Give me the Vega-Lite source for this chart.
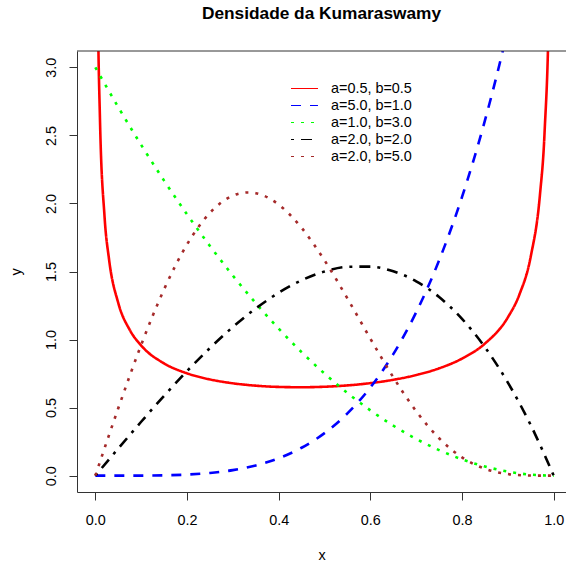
{
  "$schema": "https://vega.github.io/schema/vega-lite/v6.json",
  "width": 489,
  "height": 441,
  "autosize": {"type": "none"},
  "padding": {"left": 77, "top": 51, "right": 0, "bottom": 74},
  "background": "white",
  "title": {"text": "Densidade da Kumaraswamy", "font": "Liberation Sans", "fontSize": 17.3, "fontWeight": "bold", "color": "black", "anchor": "middle", "frame": "group", "baseline": "alphabetic", "offset": 14},
  "config": {
    "view": {"stroke": null},
    "font": "Liberation Sans",
    "axis": {"grid": false, "domain": true, "domainColor": "#333", "domainWidth": 1, "tickColor": "#333", "tickSize": 8, "tickWidth": 1, "labelFont": "Liberation Sans", "labelFontSize": 14.4, "labelColor": "black", "titleFont": "Liberation Sans", "titleFontSize": 14.4, "titleFontWeight": "normal", "titleColor": "black"}
  },
  "layer": [
    {
      "data": {"values": [
        {"s": "a=0.5, b=0.5", "x": 0.0005, "y": 11.307},
        {"s": "a=0.5, b=0.5", "x": 0.001, "y": 8.034},
        {"s": "a=0.5, b=0.5", "x": 0.002, "y": 5.72},
        {"s": "a=0.5, b=0.5", "x": 0.005, "y": 3.668},
        {"s": "a=0.5, b=0.5", "x": 0.01, "y": 2.635},
        {"s": "a=0.5, b=0.5", "x": 0.02, "y": 1.908},
        {"s": "a=0.5, b=0.5", "x": 0.03, "y": 1.587},
        {"s": "a=0.5, b=0.5", "x": 0.05, "y": 1.2689},
        {"s": "a=0.5, b=0.5", "x": 0.075, "y": 1.0713},
        {"s": "a=0.5, b=0.5", "x": 0.1, "y": 0.9561},
        {"s": "a=0.5, b=0.5", "x": 0.15, "y": 0.8247},
        {"s": "a=0.5, b=0.5", "x": 0.2, "y": 0.7519},
        {"s": "a=0.5, b=0.5", "x": 0.25, "y": 0.7071},
        {"s": "a=0.5, b=0.5", "x": 0.3, "y": 0.6787},
        {"s": "a=0.5, b=0.5", "x": 0.35, "y": 0.6612},
        {"s": "a=0.5, b=0.5", "x": 0.4, "y": 0.652},
        {"s": "a=0.5, b=0.5", "x": 0.45, "y": 0.6496},
        {"s": "a=0.5, b=0.5", "x": 0.5, "y": 0.6533},
        {"s": "a=0.5, b=0.5", "x": 0.55, "y": 0.6632},
        {"s": "a=0.5, b=0.5", "x": 0.6, "y": 0.6798},
        {"s": "a=0.5, b=0.5", "x": 0.65, "y": 0.7044},
        {"s": "a=0.5, b=0.5", "x": 0.7, "y": 0.7393},
        {"s": "a=0.5, b=0.5", "x": 0.75, "y": 0.7887},
        {"s": "a=0.5, b=0.5", "x": 0.8, "y": 0.8602},
        {"s": "a=0.5, b=0.5", "x": 0.85, "y": 0.9706},
        {"s": "a=0.5, b=0.5", "x": 0.9, "y": 1.1633},
        {"s": "a=0.5, b=0.5", "x": 0.925, "y": 1.3294},
        {"s": "a=0.5, b=0.5", "x": 0.95, "y": 1.6119},
        {"s": "a=0.5, b=0.5", "x": 0.97, "y": 2.0647},
        {"s": "a=0.5, b=0.5", "x": 0.98, "y": 2.519},
        {"s": "a=0.5, b=0.5", "x": 0.99, "y": 3.5488},
        {"s": "a=0.5, b=0.5", "x": 0.995, "y": 5.0095},
        {"s": "a=0.5, b=0.5", "x": 0.998, "y": 7.91},

        {"s": "a=5.0, b=1.0", "x": 0, "y": 0},
        {"s": "a=5.0, b=1.0", "x": 0.05, "y": 0.00003},
        {"s": "a=5.0, b=1.0", "x": 0.1, "y": 0.0005},
        {"s": "a=5.0, b=1.0", "x": 0.15, "y": 0.00253},
        {"s": "a=5.0, b=1.0", "x": 0.2, "y": 0.008},
        {"s": "a=5.0, b=1.0", "x": 0.25, "y": 0.01953},
        {"s": "a=5.0, b=1.0", "x": 0.3, "y": 0.0405},
        {"s": "a=5.0, b=1.0", "x": 0.35, "y": 0.07503},
        {"s": "a=5.0, b=1.0", "x": 0.4, "y": 0.128},
        {"s": "a=5.0, b=1.0", "x": 0.45, "y": 0.20503},
        {"s": "a=5.0, b=1.0", "x": 0.5, "y": 0.3125},
        {"s": "a=5.0, b=1.0", "x": 0.55, "y": 0.45753},
        {"s": "a=5.0, b=1.0", "x": 0.6, "y": 0.648},
        {"s": "a=5.0, b=1.0", "x": 0.65, "y": 0.89253},
        {"s": "a=5.0, b=1.0", "x": 0.7, "y": 1.2005},
        {"s": "a=5.0, b=1.0", "x": 0.75, "y": 1.58203},
        {"s": "a=5.0, b=1.0", "x": 0.8, "y": 2.048},
        {"s": "a=5.0, b=1.0", "x": 0.85, "y": 2.61003},
        {"s": "a=5.0, b=1.0", "x": 0.875, "y": 2.9309},
        {"s": "a=5.0, b=1.0", "x": 0.9, "y": 3.2805},
        {"s": "a=5.0, b=1.0", "x": 0.925, "y": 3.6605},
        {"s": "a=5.0, b=1.0", "x": 0.95, "y": 4.0725},
        {"s": "a=5.0, b=1.0", "x": 1, "y": 5},

        {"s": "a=1.0, b=3.0", "x": 0, "y": 3},
        {"s": "a=1.0, b=3.0", "x": 0.05, "y": 2.7075},
        {"s": "a=1.0, b=3.0", "x": 0.1, "y": 2.43},
        {"s": "a=1.0, b=3.0", "x": 0.15, "y": 2.1675},
        {"s": "a=1.0, b=3.0", "x": 0.2, "y": 1.92},
        {"s": "a=1.0, b=3.0", "x": 0.25, "y": 1.6875},
        {"s": "a=1.0, b=3.0", "x": 0.3, "y": 1.47},
        {"s": "a=1.0, b=3.0", "x": 0.35, "y": 1.2675},
        {"s": "a=1.0, b=3.0", "x": 0.4, "y": 1.08},
        {"s": "a=1.0, b=3.0", "x": 0.45, "y": 0.9075},
        {"s": "a=1.0, b=3.0", "x": 0.5, "y": 0.75},
        {"s": "a=1.0, b=3.0", "x": 0.55, "y": 0.6075},
        {"s": "a=1.0, b=3.0", "x": 0.6, "y": 0.48},
        {"s": "a=1.0, b=3.0", "x": 0.65, "y": 0.3675},
        {"s": "a=1.0, b=3.0", "x": 0.7, "y": 0.27},
        {"s": "a=1.0, b=3.0", "x": 0.75, "y": 0.1875},
        {"s": "a=1.0, b=3.0", "x": 0.8, "y": 0.12},
        {"s": "a=1.0, b=3.0", "x": 0.85, "y": 0.0675},
        {"s": "a=1.0, b=3.0", "x": 0.9, "y": 0.03},
        {"s": "a=1.0, b=3.0", "x": 0.95, "y": 0.0075},
        {"s": "a=1.0, b=3.0", "x": 1, "y": 0},

        {"s": "a=2.0, b=2.0", "x": 0, "y": 0},
        {"s": "a=2.0, b=2.0", "x": 0.05, "y": 0.1995},
        {"s": "a=2.0, b=2.0", "x": 0.1, "y": 0.396},
        {"s": "a=2.0, b=2.0", "x": 0.15, "y": 0.5865},
        {"s": "a=2.0, b=2.0", "x": 0.2, "y": 0.768},
        {"s": "a=2.0, b=2.0", "x": 0.25, "y": 0.9375},
        {"s": "a=2.0, b=2.0", "x": 0.3, "y": 1.092},
        {"s": "a=2.0, b=2.0", "x": 0.35, "y": 1.2285},
        {"s": "a=2.0, b=2.0", "x": 0.4, "y": 1.344},
        {"s": "a=2.0, b=2.0", "x": 0.45, "y": 1.4355},
        {"s": "a=2.0, b=2.0", "x": 0.5, "y": 1.5},
        {"s": "a=2.0, b=2.0", "x": 0.55, "y": 1.5345},
        {"s": "a=2.0, b=2.0", "x": 0.6, "y": 1.536},
        {"s": "a=2.0, b=2.0", "x": 0.65, "y": 1.5015},
        {"s": "a=2.0, b=2.0", "x": 0.7, "y": 1.428},
        {"s": "a=2.0, b=2.0", "x": 0.75, "y": 1.3125},
        {"s": "a=2.0, b=2.0", "x": 0.8, "y": 1.152},
        {"s": "a=2.0, b=2.0", "x": 0.85, "y": 0.9435},
        {"s": "a=2.0, b=2.0", "x": 0.9, "y": 0.684},
        {"s": "a=2.0, b=2.0", "x": 0.95, "y": 0.3705},
        {"s": "a=2.0, b=2.0", "x": 1, "y": 0},

        {"s": "a=2.0, b=5.0", "x": 0, "y": 0},
        {"s": "a=2.0, b=5.0", "x": 0.05, "y": 0.495},
        {"s": "a=2.0, b=5.0", "x": 0.1, "y": 0.9606},
        {"s": "a=2.0, b=5.0", "x": 0.15, "y": 1.3695},
        {"s": "a=2.0, b=5.0", "x": 0.2, "y": 1.6987},
        {"s": "a=2.0, b=5.0", "x": 0.25, "y": 1.9312},
        {"s": "a=2.0, b=5.0", "x": 0.3, "y": 2.0573},
        {"s": "a=2.0, b=5.0", "x": 0.3333, "y": 2.0806},
        {"s": "a=2.0, b=5.0", "x": 0.35, "y": 2.0752},
        {"s": "a=2.0, b=5.0", "x": 0.4, "y": 1.9915},
        {"s": "a=2.0, b=5.0", "x": 0.45, "y": 1.8203},
        {"s": "a=2.0, b=5.0", "x": 0.5, "y": 1.582},
        {"s": "a=2.0, b=5.0", "x": 0.55, "y": 1.3018},
        {"s": "a=2.0, b=5.0", "x": 0.6, "y": 1.0066},
        {"s": "a=2.0, b=5.0", "x": 0.65, "y": 0.723},
        {"s": "a=2.0, b=5.0", "x": 0.7, "y": 0.4736},
        {"s": "a=2.0, b=5.0", "x": 0.75, "y": 0.2748},
        {"s": "a=2.0, b=5.0", "x": 0.8, "y": 0.1344},
        {"s": "a=2.0, b=5.0", "x": 0.85, "y": 0.0504},
        {"s": "a=2.0, b=5.0", "x": 0.9, "y": 0.01173},
        {"s": "a=2.0, b=5.0", "x": 0.95, "y": 0.00086},
        {"s": "a=2.0, b=5.0", "x": 1, "y": 0}
      ]},
      "transform": [{"calculate": "datum.s", "as": "estilo"}],
      "mark": {"type": "line", "clip": true, "strokeWidth": 2.6, "interpolate": "monotone"},
      "encoding": {
        "x": {"field": "x", "type": "quantitative", "scale": {"domain": [-0.04, 1.0268], "nice": false, "zero": false},
              "axis": {"values": [0, 0.2, 0.4, 0.6, 0.8, 1.0], "format": ".1f", "title": "x", "labelPadding": 13, "titlePadding": 22, "labelFlush": false}},
        "y": {"field": "y", "type": "quantitative", "scale": {"domain": [-0.12, 3.12], "nice": false, "zero": false},
              "axis": {"values": [0, 0.5, 1.0, 1.5, 2.0, 2.5, 3.0], "format": ".1f", "title": "y", "labelAngle": 270, "labelAlign": "center", "labelBaseline": "bottom", "labelPadding": 10.5, "titlePadding": 20, "labelFlush": false}},
        "color": {"field": "s", "type": "nominal", "title": null,
                  "scale": {"domain": ["a=0.5, b=0.5", "a=5.0, b=1.0", "a=1.0, b=3.0", "a=2.0, b=2.0", "a=2.0, b=5.0"], "range": ["#ff0000", "#0000ff", "#00ff00", "#000000", "#a52a2a"]},
                  "legend": {"orient": "none", "legendX": 220, "legendY": 30, "symbolType": "M-2,0H2", "symbolSize": 182, "symbolStrokeWidth": 1, "labelFontSize": 14.4, "labelFont": "Liberation Sans", "labelColor": "black", "labelOffset": 19, "rowPadding": 2,
                    "encode": {"symbols": {"update": {"fill": {"value": "transparent"}, "stroke": {"scale": "color", "field": "value"}, "strokeWidth": {"value": 1}, "strokeDash": {"signal": "datum.value === 'a=5.0, b=1.0' ? [4,4] : (datum.value === 'a=1.0, b=3.0' || datum.value === 'a=2.0, b=5.0') ? [1,3] : datum.value === 'a=2.0, b=2.0' ? [1,3,4,3] : [1,0]"}}}}}},
        "strokeDash": {"field": "estilo", "type": "nominal", "title": null, "legend": null,
                  "scale": {"domain": ["a=0.5, b=0.5", "a=5.0, b=1.0", "a=1.0, b=3.0", "a=2.0, b=2.0", "a=2.0, b=5.0"], "range": [[1, 0], [10, 9], [3, 7], [3, 7, 11, 7], [3, 7]]}}
      }
    },
    {
      "data": {"values": [{}]},
      "mark": {"type": "rule", "color": "#333", "strokeWidth": 1},
      "encoding": {"y": {"datum": 3.12, "type": "quantitative"}}
    }
  ]
}
